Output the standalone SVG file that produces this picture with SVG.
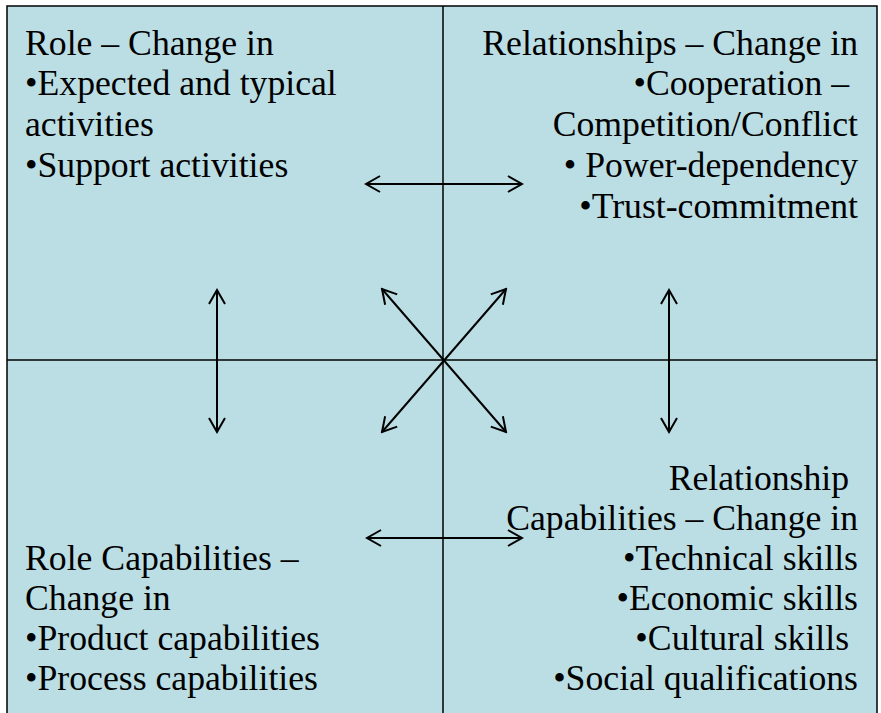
<svg xmlns="http://www.w3.org/2000/svg" width="881" height="713" viewBox="0 0 881 713">
<style>
  .t { font-family: "Liberation Serif", "Times New Roman", serif; font-size: 35.7px; fill: #000; }
  .r { text-anchor: end; }
  .div { stroke: #000; stroke-width: 1.5; fill: none; }
  .arr { stroke: #000; stroke-width: 2; fill: none; marker-start: url(#ah); marker-end: url(#ah); }
</style>
<defs>
  <marker id="ah" markerUnits="userSpaceOnUse" markerWidth="20" markerHeight="20" viewBox="-18 -10 20 20" refX="0" refY="0" orient="auto-start-reverse">
    <path d="M-14,-8 L0,0 L-14,8" fill="none" stroke="#000" stroke-width="2"/>
  </marker>
</defs>
<rect x="0" y="0" width="881" height="713" fill="#fff"/>
<rect x="7" y="6" width="870" height="730" fill="#BBDEE4" stroke="#000" stroke-width="1.5"/>
<g id="dividers">
  <line class="div" x1="443" y1="6" x2="443" y2="713"/>
  <line class="div" x1="7" y1="360" x2="877" y2="360"/>
</g>
<g id="role">
  <text class="t" x="25" y="55">Role – Change in</text>
  <text class="t" x="25" y="95">•Expected and typical</text>
  <text class="t" x="25" y="136">activities</text>
  <text class="t" x="25" y="177">•Support activities</text>
</g>
<g id="relationships">
  <text class="t r" x="858" y="55">Relationships – Change in</text>
  <text class="t r" x="858" y="95">•Cooperation –&#160;</text>
  <text class="t r" x="858" y="136">Competition/Conflict</text>
  <text class="t r" x="858" y="177">• Power-dependency</text>
  <text class="t r" x="858" y="218">•Trust-commitment</text>
</g>
<g id="role-capabilities">
  <text class="t" x="25" y="570">Role Capabilities –</text>
  <text class="t" x="25" y="610">Change in</text>
  <text class="t" x="25" y="650">•Product capabilities</text>
  <text class="t" x="25" y="690">•Process capabilities</text>
</g>
<g id="relationship-capabilities">
  <text class="t r" x="858" y="490">Relationship&#160;</text>
  <text class="t r" x="858" y="530">Capabilities – Change in</text>
  <text class="t r" x="858" y="570">•Technical skills</text>
  <text class="t r" x="858" y="610">•Economic skills</text>
  <text class="t r" x="858" y="650">•Cultural skills&#160;</text>
  <text class="t r" x="858" y="690">•Social qualifications</text>
</g>
<g id="connectors">
  <line class="arr" x1="366" y1="184" x2="522" y2="184"/>
  <line class="arr" x1="367" y1="538" x2="522" y2="538"/>
  <line class="arr" x1="217" y1="290" x2="217" y2="432"/>
  <line class="arr" x1="669" y1="290" x2="669" y2="432"/>
  <line class="arr" x1="382" y1="289" x2="506" y2="432"/>
  <line class="arr" x1="506" y1="289" x2="382" y2="432"/>
</g>
</svg>
